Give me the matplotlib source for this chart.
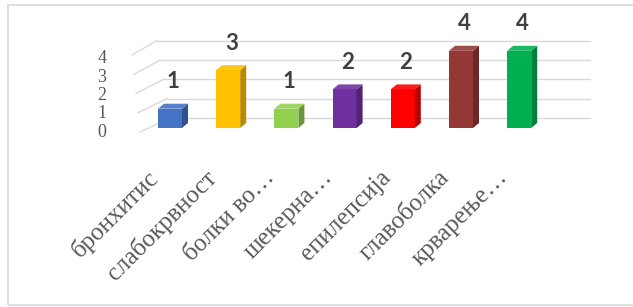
import matplotlib
matplotlib.use("Agg")
import matplotlib.pyplot as plt
from matplotlib.patches import Polygon, Rectangle
import matplotlib.colors as mcolors
import numpy as np

categories = ["бронхитис", "слабокрвност", "болки во…", "шекерна…",
              "епилепсија", "главоболка", "крварење…"]
values = [1, 3, 1, 2, 2, 4, 4]
bar_colors = ["#4472C4", "#FFC000", "#92D050", "#7030A0",
              "#FF0000", "#953735", "#00B050"]
yticks = [0, 1, 2, 3, 4]

W, H = 633, 307
fig = plt.figure(figsize=(W / 100, H / 100), dpi=100)
ax = fig.add_axes([0, 0, 1, 1])
ax.set_axis_off()

# pixel mapping: x index i -> 170 + 58.2 i ; value v -> 179 + 19.3 v (from bottom)
PXX, X0 = 58.2, 170.0
PXY, Y0 = 19.3, 179.0
ax.set_xlim(-X0 / PXX, (W - X0) / PXX)
ax.set_ylim(-Y0 / PXY, (H - Y0) / PXY)

def px_x(p):
    return (p - X0) / PXX

def px_y(p_from_top):
    return ((H - p_from_top) - Y0) / PXY

# frame
fig.patches.append(Rectangle((8 / W, 2 / H), 1.0, (302 - 2) / H,
                             transform=fig.transFigure, fill=False,
                             edgecolor="#d9d9d9", linewidth=1.2))

# gridlines: left wall diagonals + back wall horizontals
grid_c = "#d9d9d9"
back_off = 10 / PXY
for v in yticks:
    fx, fy = px_x(140 - 2 * v), px_y(132 - 19.25 * v)
    bx, by = px_x(170 - 3.3 * v), v + back_off
    ax.plot([fx, bx], [fy, by], color=grid_c, lw=1.0, zorder=1)
    ax.plot([bx, px_x(590)], [by, by], color=grid_c, lw=1.0, zorder=1)
    ax.text(px_x(102), px_y(132 - 18.3 * v), str(v), ha="center", va="center",
            fontsize=13, family="Liberation Serif", color="#595959")

# bars with pseudo-3D faces
x = np.arange(len(categories))
width = 24 / PXX
dx = 6 / PXX
dy = 5 / PXY
bars = ax.bar(x, values, width=width, color=bar_colors, zorder=3,
              edgecolor="none")
for b, c in zip(bars, bar_colors):
    x0 = b.get_x()
    x1 = x0 + b.get_width()
    h = b.get_height()
    rgb = np.array(mcolors.to_rgb(c))
    side = rgb * 0.72
    top = np.clip(rgb * 0.9 + 0.1, 0, 1)
    ax.add_patch(Polygon([[x1, 0], [x1 + dx, dy], [x1 + dx, h + dy], [x1, h]],
                         closed=True, facecolor=side, edgecolor="none", zorder=3))
    ax.add_patch(Polygon([[x0, h], [x1, h], [x1 + dx, h + dy], [x0 + dx, h + dy]],
                         closed=True, facecolor=top, edgecolor="none", zorder=3))
    ax.text(b.get_x() + b.get_width() / 2 + dx / 2, h + 27 / PXY, f"{int(h)}",
            ha="center", va="center", fontsize=16, family="Lato",
            fontweight="bold", color="#404040", zorder=4)

# category labels
for i, lab in enumerate(categories):
    ax.text(i - 15 / PXX, px_y(174), lab, rotation=45, rotation_mode="anchor",
            ha="right", va="center", fontsize=18, family="Liberation Serif",
            color="#595959")

fig.savefig("out.png", dpi=100)
